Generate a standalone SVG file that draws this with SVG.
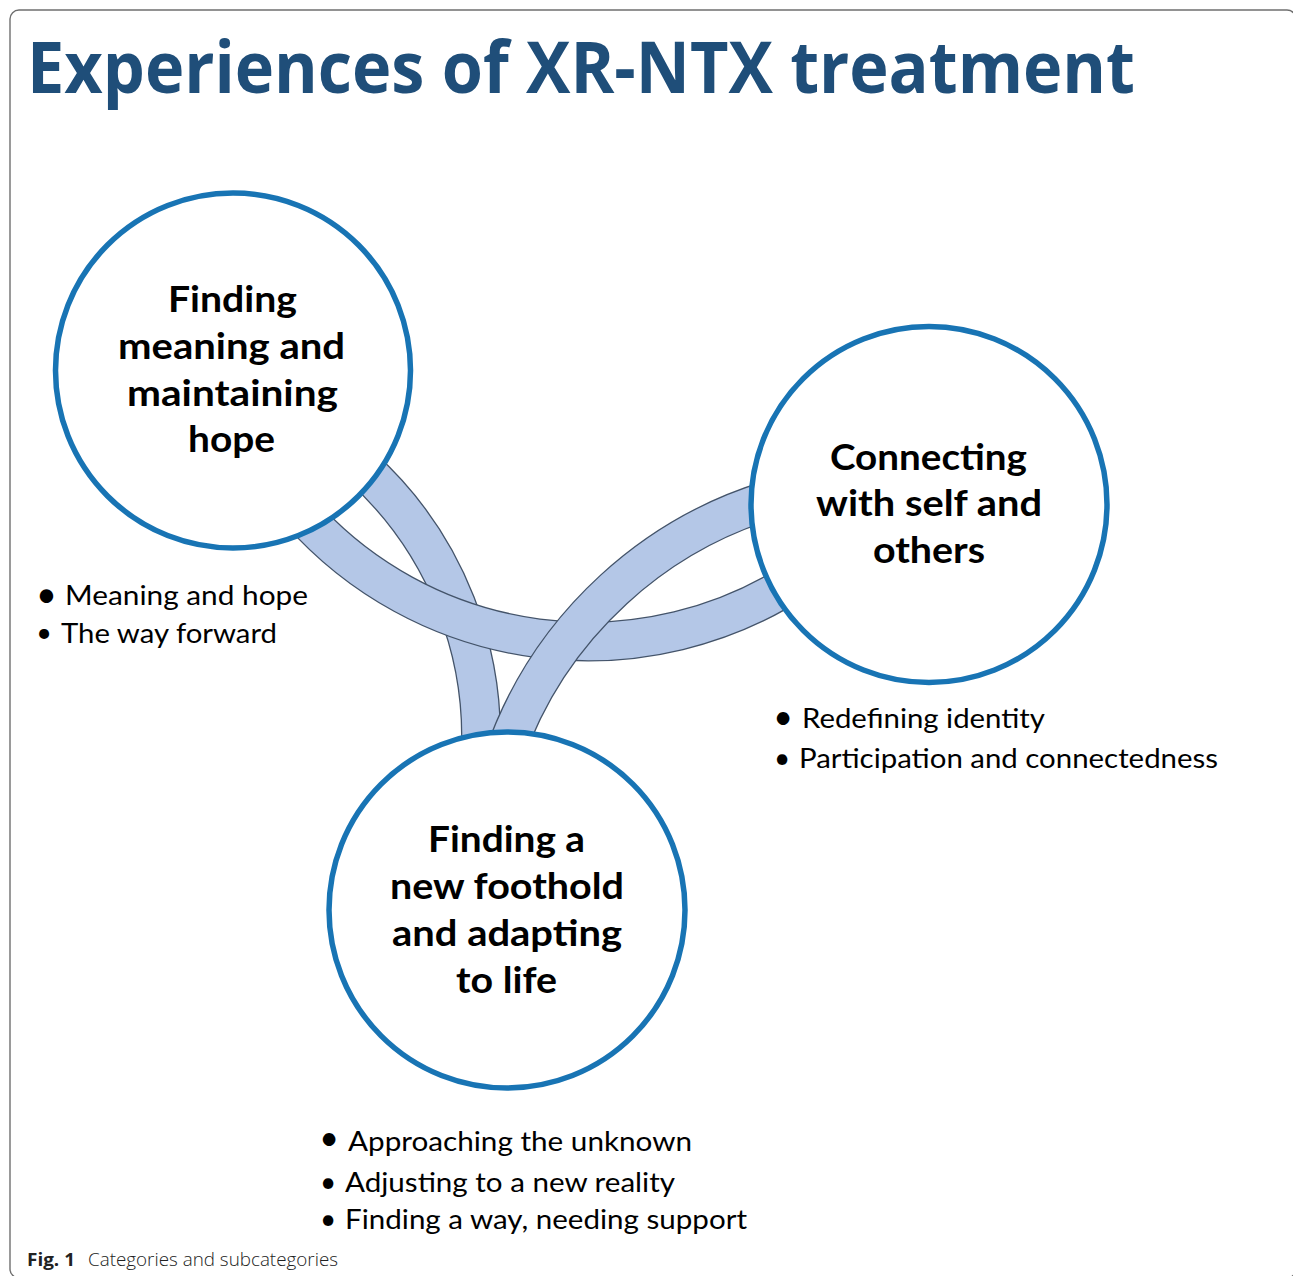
<svg xmlns="http://www.w3.org/2000/svg" width="1293" height="1276" viewBox="0 0 1293 1276">
  <style>
    .frame { fill: none; stroke: #6f6f6f; stroke-width: 1.4; }
    .title { font-family: "Open Sans", "DejaVu Sans", sans-serif; font-weight: 700; font-size: 72px; fill: #1F4E79; }
    .band-edge { fill: none; stroke: #44546A; stroke-width: 40; }
    .band-fill { fill: none; stroke: #B4C7E7; stroke-width: 37.4; }
    .ring { fill: #ffffff; stroke: #1874B4; stroke-width: 5.5; }
    .head { font-family: Lato, "Open Sans", sans-serif; font-weight: 700; font-size: 36px; fill: #000; text-anchor: middle; }
    .sub { font-family: Lato, "Open Sans", sans-serif; font-size: 27px; fill: #000; }
    .dot { font-family: Lato, "Open Sans", sans-serif; fill: #000; text-anchor: middle; }
    .cap-b { font-family: "Open Sans", sans-serif; font-weight: 700; font-size: 17px; fill: #222; }
    .cap { font-family: "Open Sans", sans-serif; font-weight: 300; font-size: 18px; fill: #222; }
  </style>

  <rect x="0" y="0" width="1293" height="1276" fill="#ffffff"/>
  <rect class="frame" x="10" y="10" width="1286" height="1268" rx="9"/>

  <text class="title" x="27" y="93" textLength="1108" lengthAdjust="spacingAndGlyphs">Experiences of XR-NTX treatment</text>

  <!-- Curved bands linking the three categories -->
  <g id="connectors">
    <!-- meaning/hope to foothold -->
    <path class="band-edge" d="M 361.2 466.9 A 363.5 363.5 0 0 1 479.6 768.6"/>
    <path class="band-fill" d="M 361.2 466.9 A 363.5 363.5 0 0 1 479.6 768.6"/>
    <!-- meaning/hope to connecting -->
    <path class="band-edge" d="M 300 511.8 A 384.5 384.5 0 0 0 799.7 578"/>
    <path class="band-fill" d="M 300 511.8 A 384.5 384.5 0 0 0 799.7 578"/>
    <!-- foothold to connecting -->
    <path class="band-edge" d="M 503.3 757.8 A 409 409 0 0 1 791.1 494.1"/>
    <path class="band-fill" d="M 503.3 757.8 A 409 409 0 0 1 791.1 494.1"/>
  </g>

  <g id="node-meaning">
    <circle class="ring" cx="233" cy="370.5" r="177.5"/>
    <text class="head" x="232.5" y="312" textLength="129" lengthAdjust="spacingAndGlyphs">Finding</text>
    <text class="head" x="231.5" y="359" textLength="227" lengthAdjust="spacingAndGlyphs">meaning and</text>
    <text class="head" x="232.5" y="406" textLength="211" lengthAdjust="spacingAndGlyphs">maintaining</text>
    <text class="head" x="231.5" y="452" textLength="87" lengthAdjust="spacingAndGlyphs">hope</text>
    <text class="dot" x="46.5" y="607" font-size="36">•</text>
    <text class="sub" x="65" y="605" textLength="243" lengthAdjust="spacingAndGlyphs">Meaning and hope</text>
    <text class="dot" x="44" y="642" font-size="27">•</text>
    <text class="sub" x="61" y="643" textLength="216" lengthAdjust="spacingAndGlyphs">The way forward</text>
  </g>

  <g id="node-connecting">
    <circle class="ring" cx="929" cy="504.5" r="178"/>
    <text class="head" x="928.5" y="470" textLength="197" lengthAdjust="spacingAndGlyphs">Connecting</text>
    <text class="head" x="929" y="516" textLength="226" lengthAdjust="spacingAndGlyphs">with self and</text>
    <text class="head" x="929" y="563" textLength="112" lengthAdjust="spacingAndGlyphs">others</text>
    <text class="dot" x="783" y="729" font-size="34">•</text>
    <text class="sub" x="802" y="728" textLength="243" lengthAdjust="spacingAndGlyphs">Redefining identity</text>
    <text class="dot" x="782" y="768" font-size="28">•</text>
    <text class="sub" x="799" y="768" textLength="419" lengthAdjust="spacingAndGlyphs">Participation and connectedness</text>
  </g>

  <g id="node-foothold">
    <circle class="ring" cx="507" cy="910" r="178"/>
    <text class="head" x="506.5" y="852" textLength="157" lengthAdjust="spacingAndGlyphs">Finding a</text>
    <text class="head" x="507" y="899" textLength="234" lengthAdjust="spacingAndGlyphs">new foothold</text>
    <text class="head" x="507" y="946" textLength="230" lengthAdjust="spacingAndGlyphs">and adapting</text>
    <text class="head" x="506.5" y="993" textLength="101" lengthAdjust="spacingAndGlyphs">to life</text>
    <text class="dot" x="329" y="1150" font-size="34">•</text>
    <text class="sub" x="348" y="1151" textLength="344" lengthAdjust="spacingAndGlyphs">Approaching the unknown</text>
    <text class="dot" x="328" y="1192" font-size="28">•</text>
    <text class="sub" x="345" y="1192" textLength="330" lengthAdjust="spacingAndGlyphs">Adjusting to a new reality</text>
    <text class="dot" x="328" y="1229" font-size="28">•</text>
    <text class="sub" x="345" y="1229" textLength="402" lengthAdjust="spacingAndGlyphs">Finding a way, needing support</text>
  </g>

  <text class="cap-b" x="27" y="1266" textLength="48" lengthAdjust="spacingAndGlyphs">Fig. 1</text>
  <text class="cap" x="88" y="1266" textLength="250" lengthAdjust="spacingAndGlyphs">Categories and subcategories</text>
</svg>
